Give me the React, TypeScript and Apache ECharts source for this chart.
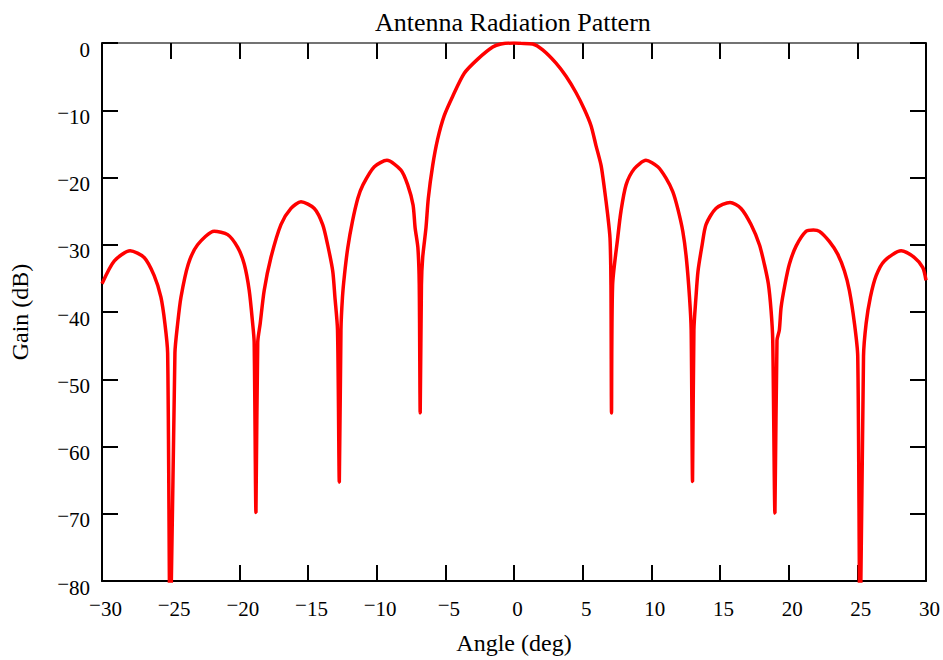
import React, { useEffect, useRef } from "react";
import * as echarts from "echarts";

// Angle (deg) and gain (dB)
const leftAngles = [
  -30, -29.1, -27.95, -26.93, -26.2, -25.71, -25.42, -25.22, -25.03, -24.69, -24.49, -24.25,
  -23.72, -23.04, -21.83, -20.85, -20.12, -19.64, -19.28, -19.03, -18.92, -18.79, -18.66,
  -18.48, -18.19, -17.7, -16.97, -16.24, -15.51, -14.54, -13.93, -13.57, -13.2, -13.04,
  -12.85, -12.72, -12.6, -12.49, -12.34, -12.1, -11.76, -11.37, -11.0, -10.17, -9.25,
  -8.23, -7.74, -7.35, -7.2, -7.0, -6.9, -6.83, -6.74, -6.65, -6.41, -6.24, -5.92,
  -5.56, -5.08, -4.46, -3.62, -2.64, -1.55, -0.95, 0,
];
const leftGains = [
  -35.8, -32.4, -30.9, -31.9, -34.6, -37.8, -41.7, -46.1, -90, -46.1, -41.7, -37.8,
  -32.9, -30.0, -28.0, -28.5, -30.4, -32.9, -36.8, -41.7, -44.5, -69.8, -44.5,
  -41.7, -36.8, -31.9, -27.0, -24.6, -23.6, -24.6, -27.0, -30.0, -33.9, -37.8,
  -42.7, -65.3, -42.7, -37.8, -34.4, -30.4, -26.5, -23.1, -21.1, -18.4, -17.45,
  -18.9, -21.1, -24.1, -27.5, -30.4, -35.8, -55.0, -36.0, -31.9, -27.5, -23.1, -18.2,
  -14.3, -10.8, -7.9, -4.5, -2.4, -0.6, -0.15, 0,
];
const rightAngles = [
  0.5, 1.36, 2.09, 3.06, 3.79, 4.52, 5.12, 5.61, 5.97, 6.34, 6.58, 6.82, 6.99, 7.06,
  7.1, 7.18, 7.55, 7.79, 8.16, 8.76, 9.61, 10.47, 11.07, 11.56, 11.92, 12.29, 12.55,
  12.78, 12.9, 13.0, 13.1, 13.25, 13.4, 13.7, 13.98, 14.7, 15.73, 16.53, 17.26, 17.87,
  18.23, 18.52, 18.72, 18.84, 19.0, 19.15, 19.32, 19.45, 19.74, 20.05, 20.54, 21.27,
  21.8, 22.24, 22.96, 23.57, 24.06, 24.42, 24.79, 25.03, 25.2, 25.45, 25.64, 25.95,
  26.37, 26.97, 28.19, 29.16, 29.77, 30,
];
const rightGains = [
  -0.05, -0.15, -1.03, -3.0, -4.96, -7.4, -9.85, -12.3, -15.25, -18.2, -21.6, -25.5, -29.0, -36.0,
  -55.0, -36.0, -29.0, -25.0, -21.1, -18.7, -17.45, -18.4, -20.1, -22.1, -24.6, -28.0, -32.0,
  -37.8, -42.7, -65.2, -42.7, -37.8, -33.9, -30.0, -27.0, -24.6, -23.7, -24.6, -27.0, -30.0,
  -32.9, -35.8, -39.8, -44.2, -69.9, -44.2, -42.7, -39.3, -35.8, -32.9, -30.2, -28.0,
  -27.8, -28.0, -29.5, -31.4, -33.9, -36.8, -41.7, -46.6, -90, -46.6, -41.7, -37.8,
  -34.6, -32.4, -30.9, -31.9, -33.4, -35.3,
];

const xTicks = { min: -30, max: 30, step: 5 };
const yTicks = { min: -80, max: 0, step: 10 };

const FONT = "'Liberation Serif', 'Times New Roman', serif";

function fmt(v: number) {
  if (v < 0) return `{m|\u2212}{n|${Math.abs(v)}}`;
  return `{n|${v}}`;
}

const rich = {
  n: { fontFamily: FONT, fontSize: 21, color: "#000", lineHeight: 34 },
  m: { fontFamily: FONT, fontSize: 21, color: "#000", padding: [0, 0, 8, 0] },
};

export default function App() {
  const ref = useRef<HTMLDivElement>(null);
  useEffect(() => {
    if (!ref.current) return;
    const chart = echarts.init(ref.current, undefined, { renderer: "svg" });
    const data: number[][] = [];
    leftAngles.forEach((a, i) => data.push([a, leftGains[i]]));
    rightAngles.forEach((a, i) => data.push([a, rightGains[i]]));
    const axisLine = { show: true, onZero: false, lineStyle: { color: "#000", width: 2 } };
    const tick = { show: true, inside: true, length: 16, lineStyle: { color: "#000", width: 2 } };
    chart.setOption({
      animation: false,
      backgroundColor: "#fff",
      title: {
        text: "Antenna Radiation Pattern",
        left: 375,
        top: 9,
        padding: 0,
        textStyle: { fontFamily: FONT, fontSize: 26, fontWeight: "normal", color: "#000" },
      },
      grid: { left: 102, right: 17, top: 43, bottom: 73 },
      xAxis: [
        {
          type: "value",
          min: xTicks.min,
          max: xTicks.max,
          interval: xTicks.step,
          position: "bottom",
          name: "Angle (deg)",
          nameLocation: "middle",
          nameGap: 50,
          nameTextStyle: { fontFamily: FONT, fontSize: 24, color: "#000" },
          axisLine,
          axisTick: tick,
          splitLine: { show: false },
          axisLabel: { margin: 11, padding: [0, 0, 0, 7], formatter: fmt, rich },
        },
        {
          type: "value",
          min: xTicks.min,
          max: xTicks.max,
          interval: xTicks.step,
          position: "top",
          axisLine: { show: true, onZero: false, lineStyle: { color: "#444", width: 1.5 } },
          axisTick: tick,
          splitLine: { show: false },
          axisLabel: { show: false },
        },
      ],
      yAxis: [
        {
          type: "value",
          min: yTicks.min,
          max: yTicks.max,
          interval: yTicks.step,
          position: "left",
          name: "Gain (dB)",
          nameLocation: "middle",
          nameGap: 70,
          nameTextStyle: { fontFamily: FONT, fontSize: 24, color: "#000" },
          axisLine,
          axisTick: tick,
          splitLine: { show: false },
          axisLabel: { margin: 12, padding: [13, 0, 0, 0], formatter: fmt, rich },
        },
        {
          type: "value",
          min: yTicks.min,
          max: yTicks.max,
          interval: yTicks.step,
          position: "right",
          axisLine,
          axisTick: tick,
          splitLine: { show: false },
          axisLabel: { show: false },
        },
      ],
      series: [
        {
          type: "line",
          data,
          showSymbol: false,
          smooth: 0.25,
          clip: true,
          lineStyle: { color: "#ff0000", width: 3.5 },
          xAxisIndex: 0,
          yAxisIndex: 0,
        },
      ],
    });
    return () => chart.dispose();
  }, []);
  return <div ref={ref} style={{ width: 943, height: 660, position: "absolute", left: 0, top: 0 }} />;
}
